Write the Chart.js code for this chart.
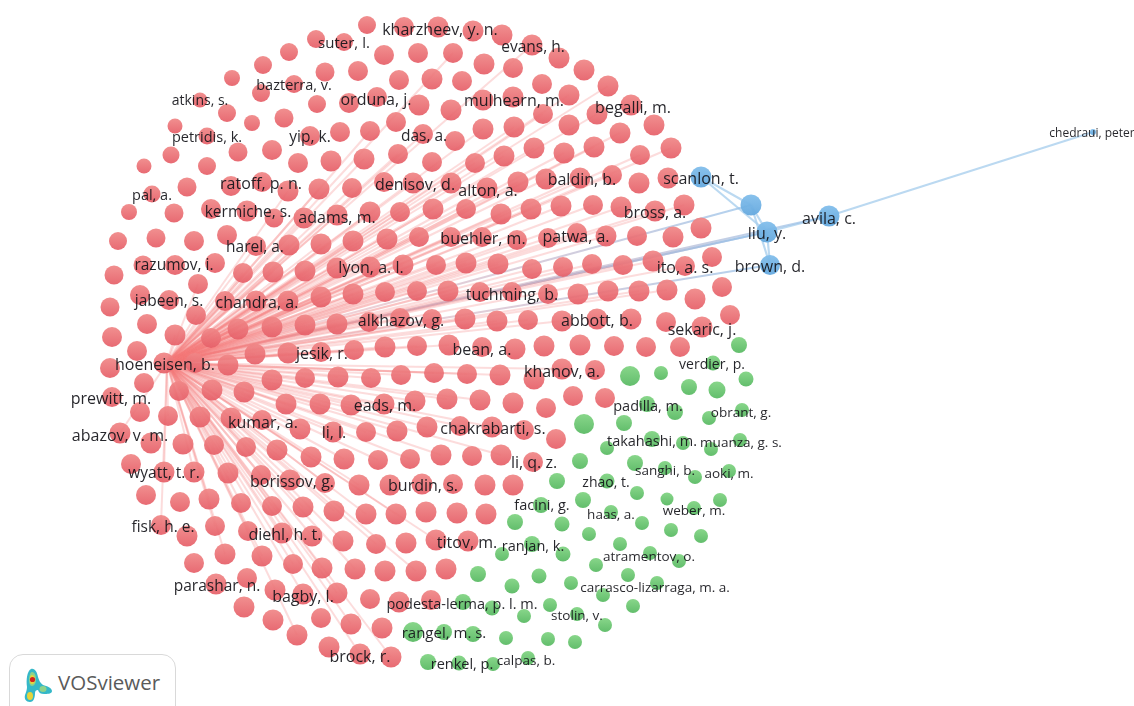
<!DOCTYPE html>
<html><head><meta charset="utf-8">
<script src="https://cdn.jsdelivr.net/npm/chart.js@4"></script>
<style>
html,body{margin:0;padding:0;background:#fff;overflow:hidden;width:1134px;height:706px}
#wrap{position:relative;width:1134px;height:706px}
#logo{position:absolute;left:9px;top:654px;width:167px;height:70px;border:1px solid #d9d9d9;border-radius:14px;background:#fff;box-sizing:border-box}
#logo span{position:absolute;left:48px;top:13px;font:20.5px "Open Sans",sans-serif;color:#5a5a5a}
#logo svg{position:absolute;left:13px;top:12px}
</style></head><body>
<div id="wrap"><canvas id="c" width="1134" height="706"></canvas>
<div id="logo"><svg width="32" height="36" viewBox="0 0 32 36">
<path d="M8 2c4-1 6 3 7 8 1 3 2 6 5 8 4 1 9 3 9 6s-5 3-8 3c-3 0-5-1-6-4-2 0-3 1-3 3 0 4-1 9-5 9s-6-3-5-7c1-3 2-5 2-8C3 13 4 4 8 2z" fill="#35b8c8"/>
<path d="M9 5c3 0 4 4 4 8 0 3-2 6-4 6s-3-3-3-6 1-8 3-8z" fill="#8ed28a"/>
<path d="M9 8c2 0 3 3 3 5s-1 4-3 4-2-2-2-4 0-5 2-5z" fill="#e6d53a"/>
<circle cx="9.5" cy="12.5" r="2.6" fill="#d2231f"/>
<ellipse cx="7" cy="29" rx="3" ry="4" fill="#e6d53a"/>
<ellipse cx="20" cy="22" rx="3.5" ry="3" fill="#8ed28a"/>
</svg><span>VOSviewer</span></div></div>
<script>
const hub = [167, 363];

const redNodes = [
[367,25,9],[404,27,10],[438,27,10.5],[473,31,10.5],[502,35,10.5],[316,39,9],[344,42,9],[532,45,10.5],
[289,52,9],[384,55,10],[418,53,10],[453,53,10],[559,58,10.5],[263,65,9],[325,72,9.5],[358,71,10],[484,64,10.5],[513,68,10],[584,70,10.5],
[232,78,8],[399,80,10],[432,79,10.5],[462,81,10],[542,84,10],[294,84,9],[608,86,10.5],[261,93,9],[569,95,10.5],
[377,97,10],[513,97,10.5],[200,100,7.5],[483,100,10.5],[317,104,9],[349,103,10],[419,105,10.5],[631,105,10.5],[451,110,10.5],[227,113,9],[543,114,10],[597,114,10.5],
[284,118,9.5],[396,122,10],[252,123,8],[175,126,7.5],[569,125,10.5],[654,125,10.5],[483,129,10.5],[514,127,10.5],[370,131,10],[340,132,10],[620,133,10.5],[423,134,10],[207,136,8.5],[310,136,10],[455,141,10],
[534,148,10.5],[594,147,10.5],[671,148,10.5],[272,150,10],[238,152,9.5],[171,155,8.5],[398,154,10],[564,153,10.5],[504,156,10.5],[640,155,10],[364,159,10.5],[331,161,10.5],[432,162,10],[298,163,10],[475,163,10],[144,166,7.5],[207,166,9],
[612,175,10],[580,178,10.5],[546,179,10.5],[668,178,10.5],[262,182,10],[384,182,10],[413,183,10.5],[451,183,10.5],[518,182,10.5],[639,183,10.5],[231,186,10],[187,187,9.5],[487,188,10.5],[319,189,10.5],[352,188,10],[288,191,10.5],[152,194,8.5],
[593,205,10],[684,205,10.5],[561,206,10.5],[621,207,10.5],[211,209,10],[433,209,10.5],[466,209,10],[531,209,10.5],[655,211,10.5],[247,211,10.5],[129,212,8],[370,212,10.5],[400,212,10],[174,213,9.5],[501,214,10.5],[337,215,10.5],[274,218,9.5],[304,218,10.5],
[701,228,10.5],[227,235,10],[419,237,10],[451,237,10],[482,237,10],[577,233,10],[548,238,10],[606,236,10.5],[637,236,10],[673,237,10.5],[156,238,9.5],[387,239,10.5],[353,241,10.5],[118,241,9],[194,241,10],[517,240,10],[321,244,10.5],[289,245,10.5],[256,246,10],
[712,257,10],[653,261,10.5],[215,263,10],[466,263,10.5],[592,264,10],[143,265,9.5],[175,265,10],[403,265,10.5],[436,265,10],[498,264,10.5],[623,265,10],[685,266,10],[370,267,10.5],[563,267,10],[337,268,10.5],[532,269,10],[305,271,10.5],[273,272,10.5],[243,273,10],[114,275,9.5],
[198,284,10],[722,287,10],[667,290,10.5],[417,291,10],[448,291,10.5],[608,291,10.5],[639,291,10.5],[385,292,10],[480,292,10],[512,292,10],[353,294,10.5],[548,294,10],[578,294,10.5],[140,295,10],[321,297,10.5],[695,299,10.5],[169,300,10],[225,301,10],[256,301,10.5],[288,301,10.5],[110,307,9.5],
[730,315,10],[196,315,10],[400,318,10],[432,319,10],[465,319,10.5],[597,319,10.5],[631,319,10.5],[528,320,10],[497,321,10.5],[562,321,10.5],[369,322,10],[666,322,10],[147,324,10],[337,324,10.5],[305,325,10.5],[272,327,10.5],[702,327,10.5],[238,329,10.5],
[175,335,10.5],[112,337,10],[211,338,10],[449,345,10.5],[580,345,10.5],[417,346,10],[544,346,10.5],[614,346,10],[385,347,10.5],[482,347,10],[646,347,10],[680,347,10],[515,349,10.5],[354,350,10],[137,351,10],[321,352,10],[288,353,10.5],[255,354,10.5],
[164,363,10.5],[195,363,10],[228,365,10.5],[110,368,10],[562,369,10.5],[595,370,10],[434,373,10],[467,374,10],[401,375,10],[500,375,10.5],[338,377,10.5],[305,378,10],[371,378,10],[534,379,10.5],[272,380,10.5],[144,383,10],
[212,390,10.5],[179,391,10],[244,392,10.5],[573,396,10],[112,397,10],[605,398,10],[447,399,10.5],[480,400,10.5],[415,401,10.5],[513,403,10.5],[286,404,10.5],[320,404,10.5],[384,404,10.5],[351,405,10.5],[546,408,10],
[140,412,10],[168,416,10],[200,417,10.5],[231,418,10.5],[262,420,10],[460,426,10],[427,427,10.5],[492,427,10.5],[300,429,10.5],[524,430,10],[397,431,10.5],[333,432,10.5],[366,432,10],[120,433,10.5],[556,439,10],
[151,443,10.5],[183,444,10.5],[214,445,10],[246,447,10],[277,450,10.5],[441,455,10.5],[501,455,10.5],[472,456,10],[311,457,10.5],[344,459,10.5],[378,460,10],[410,459,10],[533,462,10],[131,464,10],
[164,472,10.5],[194,472,10.5],[228,473,10.5],[261,475,10],[290,480,10.5],[325,483,10],[453,484,10],[359,485,10.5],[390,485,10.5],[422,484,10.5],[485,485,10.5],[513,485,10.5],
[146,495,10],[209,499,10.5],[180,502,10],[241,503,10],[272,506,10],[303,507,10.5],[334,511,10.5],[426,512,10.5],[457,513,10.5],[366,514,10.5],[396,514,10.5],[486,514,10.5],
[161,525,10],[215,526,10],[248,531,10],[282,533,10.5],[187,536,10.5],[312,536,10.5],[436,540,10.5],[343,541,10.5],[468,541,10.5],[406,543,10.5],[376,544,10],
[225,554,10.5],[262,556,10.5],[194,563,10],[293,564,10],[322,568,10.5],[355,569,10.5],[446,569,10.5],[385,571,10.5],[416,571,10.5],
[247,578,10],[216,584,10.5],[275,590,10.5],[337,593,10.5],[303,594,10.5],[370,599,10],[431,600,10],[399,602,10.5],
[244,607,10.5],[321,618,10],[273,620,10.5],[351,624,10.5],[382,628,10.5],[297,635,10.5],[329,647,10.5],[360,654,10.5],[391,657,10.5]
];

const greenNodes = [
[739,345,8],[713,363,7.5],[661,373,7],[630,376,10],[746,379,7.5],[689,387,8],[717,390,8.5],[647,404,8],[742,410,7],[675,412,8],[709,418,7],
[584,424,10],[624,423,8],[652,439,8],[740,440,7],[683,443,7],[607,448,7],[711,449,7],[580,461,8],[635,463,8],[665,468,7],[729,471,7],[695,477,7],
[557,481,8],[607,481,7.5],[637,493,7],[667,499,6.5],[583,500,8],[720,500,7],[541,505,8],[694,508,7],[611,512,7],
[515,522,8],[642,523,7],[562,524,7.5],[671,530,7],[589,534,7],[701,536,7],[532,544,8],[620,544,7],[650,553,7],[502,554,7],[563,554,7.5],[679,561,7],[596,565,7],
[478,574,8],[628,575,7],[539,576,7.5],[571,583,7],[657,583,7],[512,586,7.5],[603,595,7],[463,602,8],[550,605,7],[633,606,7],[492,608,7.5],[577,614,7],[524,616,7],[605,625,7],
[413,632,10],[444,632,8],[473,634,8],[506,638,7],[548,639,7],[575,642,7],[528,658,7],[428,662,8],[459,663,7.5],[493,664,7]
];

const blueNodes = [[701,177,10.5],[751,205,10.5],[767,232,10.5],[770,265,10],[829,216,10.5],[1093,132,3]];

const redLinkTargets = [
[453,53],[532,45],[608,86],[569,95],[597,114],[543,114],[620,133],[514,127],[483,129],[671,148],[640,155],[594,147],[564,153],[534,148],[504,156],[475,163],[423,134],[398,154],[370,131],[364,159],[352,188],[319,189],[288,191],[304,218],[337,215],[370,212],[400,212],[433,209],[466,209],[501,214],[531,209],[561,206],[593,205],[621,207],[655,211],[684,205],[612,175],[580,178],[546,179],[518,182],[487,188],[451,183],[413,183],
[273,272],[256,246],[289,245],[321,244],[353,241],[387,239],[419,237],[451,237],[482,237],[517,240],[548,238],[577,233],[606,236],[305,271],[337,268],[370,267],[403,265],[436,265],[466,263],[498,264],[532,269],[563,267],[592,264],[623,265],[653,261],[685,266],[243,273],[225,301],[256,301],[288,301],[321,297],[353,294],[385,292],[417,291],[448,291],[480,292],[639,291],[667,290],
[238,329],[272,327],[305,325],[337,324],[369,322],[400,318],[432,319],[465,319],[497,321],[528,320],[562,321],[255,354],[288,353],[321,352],[354,350],[385,347],[417,346],[449,345],[228,365],[272,380],[305,378],[338,377],[371,378],[401,375],[434,373],[467,374],[500,375],[562,369],
[212,390],[244,392],[286,404],[320,404],[351,405],[384,404],[415,401],[447,399],[480,400],[200,417],[231,418],[262,420],[300,429],[333,432],[366,432],[397,431],[427,427],[460,426],[492,427],[214,445],[246,447],[277,450],[311,457],[344,459],[378,460],[410,459],[441,455],[501,455],
[228,473],[261,475],[290,480],[325,483],[359,485],[194,472],[209,499],[241,503],[272,506],[303,507],[334,511],[366,514],[396,514],[436,540],[215,526],[248,531],[282,533],[312,536],[343,541],[376,544],[416,571],[225,554],[262,556],[293,564],[322,568],[355,569],[297,635],[351,624],[391,657],[360,654],[303,594],[337,593],
[164,472],[161,525],[120,433],[179,391],[168,416],[175,335],[196,315],[211,338],[198,284]
];
const hubToBlueTargets = [[751,205],[767,232],[767,232],[829,216],[770,265]];
const blueLinks = [[[701,177],[767,232]],[[701,177],[751,205]],[[751,205],[767,232]],[[751,205],[770,265]],[[767,232],[770,265]],[[767,232],[829,216]],[[829,216],[1093,132]]];

const nodeLabels = [
["kharzheev, y. n.",440,29,16],["suter, l.",344,43,15],["evans, h.",533,47,15.5],["bazterra, v.",294,85,14.5],["atkins, s.",200,100,14],["orduna, j.",376,99,16],["mulhearn, m.",514,100,16],["begalli, m.",633,107,16],
["petridis, k.",207,137,14.5],["yip, k.",310,137,15.5],["das, a.",424,136,15.5],["ratoff, p. n.",261,183,16],["denisov, d.",415,184,16],["alton, a.",488,190,16],["baldin, b.",582,179,16],["scanlon, t.",701,178,16],
["pal, a.",152,195,14.5],["kermiche, s.",248,212,15.5],["adams, m.",337,217,16],["bross, a.",655,212,16],["harel, a.",255,247,15.5],["buehler, m.",483,238,16],["patwa, a.",576,236,16],["liu, y.",767,233,16],["brown, d.",770,266,16],["avila, c.",829,218,16],
["razumov, i.",174,265,15.5],["lyon, a. l.",371,267,16],["ito, a. s.",685,267,16],["jabeen, s.",169,301,15.5],["chandra, a.",257,302,16],["tuchming, b.",512,294,16],["alkhazov, g.",401,320,16],["abbott, b.",597,320,16],["sekaric, j.",702,329,16],
["jesik, r.",322,353,16],["bean, a.",482,349,16],["hoeneisen, b.",165,364,16],["khanov, a.",562,371,16],["verdier, p.",712,364,14],["prewitt, m.",111,398,16],["eads, m.",385,405,16],["padilla, m.",648,406,14.5],["obrant, g.",741,412,13.5],
["chakrabarti, s.",493,428,16],["kumar, a.",263,422,16],["takahashi, m.",652,441,14.5],["muanza, g. s.",741,442,13.5],["abazov, v. m.",120,435,16],["li, l.",334,432,16],["li, q. z.",534,462,16],["sanghi, b.",665,470,13.5],["aoki, m.",729,473,13.5],
["wyatt, t. r.",164,473,15.5],["borissov, g.",292,481,16],["burdin, s.",423,485,16],["zhao, t.",606,482,14],["facini, g.",542,505,14.5],["weber, m.",694,510,13.5],["haas, a.",611,514,13.5],["fisk, h. e.",163,527,15.5],["diehl, h. t.",285,534,16],
["titov, m.",467,542,16],["ranjan, k.",533,546,14.5],["atramentov, o.",649,556,13.5],["carrasco-lizarraga, m. a.",655,587,13.5],["parashar, n.",217,586,15.5],["bagby, l.",303,596,16],["podesta-lerma, p. l. m.",462,604,14.5],["stolin, v.",577,615,13.5],
["rangel, m. s.",444,633,15],["brock, r.",360,656,16],["renkel, p.",462,664,14.5],["calpas, b.",526,660,13.5],["chedraui, peter",1092,133,12]
];

const FONT = '"Open Sans", "Noto Sans", sans-serif';
const toPts = a => a.map(p => ({x:p[0], y:p[1], r:p[2]}));

function bubbleFill(top, bottom){
  return ctx => {
    const raw = ctx.raw; const ch = ctx.chart;
    if(!raw || !ch.scales.y) return bottom;
    const py = ch.scales.y.getPixelForValue(raw.y);
    if(!Number.isFinite(py) || !Number.isFinite(raw.r)) return bottom;
    const g = ch.ctx.createLinearGradient(0, py-raw.r, 0, py+raw.r);
    g.addColorStop(0, top); g.addColorStop(1, bottom);
    return g;
  };
}
function linkGrad(a, b, ca, cb){
  return ctx => {
    const ch = ctx.chart; const sx = ch.scales.x, sy = ch.scales.y;
    if(!sx||!sy) return cb;
    const q = [sx.getPixelForValue(a[0]), sy.getPixelForValue(a[1]), sx.getPixelForValue(b[0]), sy.getPixelForValue(b[1])];
    if(!q.every(Number.isFinite)) return cb;
    const g = ch.ctx.createLinearGradient(q[0],q[1],q[2],q[3]);
    g.addColorStop(0, ca); g.addColorStop(1, cb);
    return g;
  };
}
const lineDs = (a,b,color,w) => ({type:'line',data:[{x:a[0],y:a[1]},{x:b[0],y:b[1]}],borderColor:color,borderWidth:w,pointRadius:0,fill:false,tension:0,order:10});

const datasets = [];
redLinkTargets.forEach(t => datasets.push(lineDs(hub,t,'rgba(244,120,120,0.26)',2)));
hubToBlueTargets.forEach(t => datasets.push(lineDs(hub,t,linkGrad(hub,t,'rgba(244,120,120,0.26)','rgba(150,195,235,0.75)'),2)));
blueLinks.forEach(l => datasets.push(lineDs(l[0],l[1],'rgba(170,208,238,0.8)',2.2)));
datasets.push({type:'bubble',data:toPts(redNodes),backgroundColor:bubbleFill('rgba(240,135,135,0.93)','rgba(230,95,104,0.93)'),borderWidth:0,order:1});
datasets.push({type:'bubble',data:toPts(greenNodes),backgroundColor:bubbleFill('rgba(130,212,132,0.95)','rgba(90,186,100,0.95)'),borderWidth:0,order:1});
datasets.push({type:'bubble',data:toPts(blueNodes),backgroundColor:bubbleFill('rgba(130,190,235,0.95)','rgba(100,168,222,0.95)'),borderWidth:0,order:1});

const labelPlugin = {
  id:'nodeLabelText',
  afterDatasetsDraw(ch){
    const c = ch.ctx, sx = ch.scales.x, sy = ch.scales.y;
    c.save(); c.textAlign='center'; c.textBaseline='middle'; c.fillStyle='rgba(20,20,25,0.92)';
    nodeLabels.forEach(l => {
      c.font = l[3]+'px '+FONT;
      c.fillText(l[0], sx.getPixelForValue(l[1]), sy.getPixelForValue(l[2]+1));
    });
    c.restore();
  }
};

new Chart(document.getElementById('c'),{
  type:'bubble',
  data:{datasets},
  plugins:[labelPlugin],
  options:{
    responsive:false,animation:false,
    layout:{padding:0,autoPadding:false},
    plugins:{legend:{display:false},tooltip:{enabled:false},title:{display:false}},
    scales:{
      x:{type:'linear',display:false,min:0,max:1134},
      y:{type:'linear',display:false,min:0,max:706,reverse:true}
    }
  }
});
</script></body></html>
